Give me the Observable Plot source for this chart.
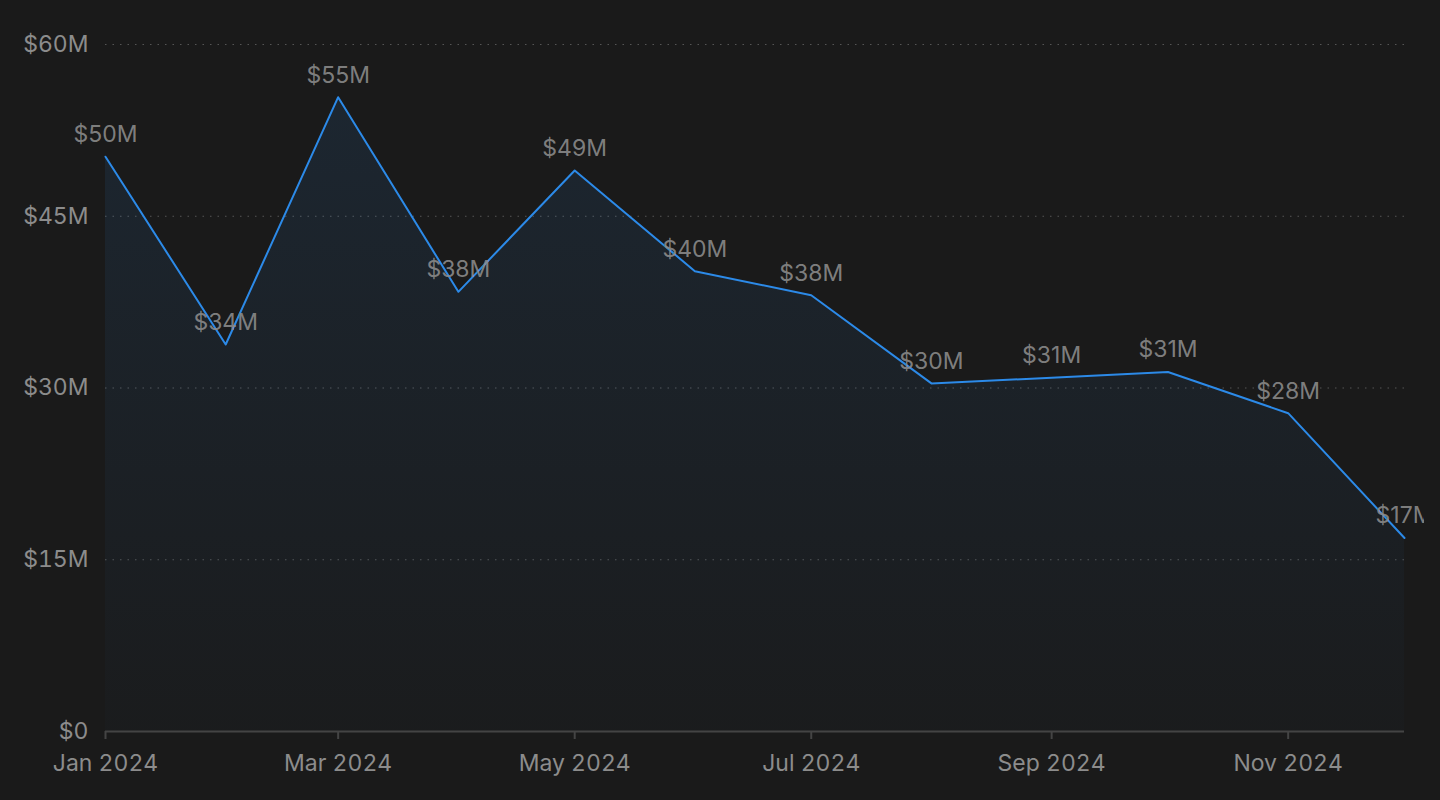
<!DOCTYPE html>
<html>
<head>
<meta charset="utf-8">
<script src="https://cdn.jsdelivr.net/npm/d3@7"></script>
<script src="https://cdn.jsdelivr.net/npm/@observablehq/plot@0.6"></script>
<style>
  html, body { margin: 0; padding: 0; background: #1a1a1a; }
  #chart { width: 1440px; height: 800px; overflow: hidden; }
  #chart svg { display: block; }
</style>
</head>
<body>
<div id="chart"></div>
<script>
const months = ["2024-01-01","2024-02-01","2024-03-01","2024-04-01","2024-05-01","2024-06-01",
                "2024-07-01","2024-08-01","2024-09-01","2024-10-01","2024-11-01","2024-12-01"];
const revenue = [50.2, 33.8, 55.4, 38.4, 49.0, 40.2, 38.1, 30.4, 30.9, 31.4, 27.8, 16.9]; // $M
const yTicks = [0, 15, 30, 45, 60];

const data = months.map((m, i) => ({date: new Date(m + "T00:00:00Z"), value: revenue[i]}));
const fmt = v => v === 0 ? "$0" : "$" + Math.round(v) + "M";

const gradient = () => {
  const defs = d3.create("svg:defs");
  const g = defs.append("linearGradient")
    .attr("id", "areaGrad").attr("x1", 0).attr("y1", 0).attr("x2", 0).attr("y2", 1);
  g.append("stop").attr("offset", "0%").attr("stop-color", "#2f8ae6").attr("stop-opacity", 0.11);
  g.append("stop").attr("offset", "100%").attr("stop-color", "#2f8ae6").attr("stop-opacity", 0.015);
  return defs.node();
};

const chart = Plot.plot({
  width: 1424,
  height: 800,
  marginLeft: 105,
  marginRight: 20,
  marginTop: 44,
  marginBottom: 69,
  style: {background: "#1a1a1a", color: "#8c8c8c", fontSize: "23px", fontFamily: "Inter, 'Noto Sans', sans-serif", overflow: "hidden"},
  x: {type: "utc", domain: [data[0].date, data[data.length - 1].date], label: null},
  y: {domain: [0, 60], label: null},
  marks: [
    gradient,
    Plot.gridY(yTicks.filter(d => d > 0), {stroke: "#555", strokeOpacity: 1, strokeDasharray: "1.5,6"}),
    Plot.areaY(data, {x: "date", y: "value", fill: "url(#areaGrad)"}),
    Plot.ruleY([0], {stroke: "#444", strokeWidth: 2}),
    Plot.lineY(data, {x: "date", y: "value", stroke: "#2c8ae8", strokeWidth: 2}),
    Plot.text(data, {x: "date", y: "value", text: d => fmt(d.value), dy: -22, fill: "#8c8c8c", fillOpacity: 0.9, fontSize: 23}),
    Plot.axisX({ticks: d3.utcMonth.every(2), tickFormat: d3.utcFormat("%b %Y"), tickSize: 8, tickPadding: 15, stroke: "#444", strokeWidth: 2, fill: "#8c8c8c", label: null}),
    Plot.axisY({ticks: yTicks, tickFormat: fmt, tickSize: 0, tickPadding: 17, fill: "#8c8c8c", label: null})
  ]
});
document.getElementById("chart").appendChild(chart);
</script>
</body>
</html>
